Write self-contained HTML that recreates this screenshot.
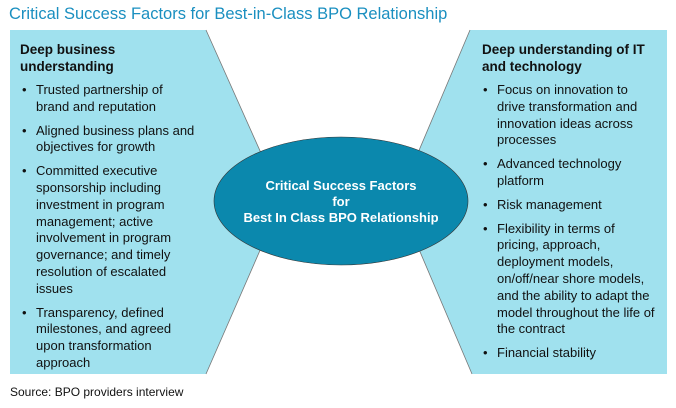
<!DOCTYPE html>
<html><head><style>
body{margin:0;width:676px;height:408px;background:#fff;font-family:"Liberation Sans",Arial,sans-serif;position:relative;overflow:hidden}
.t{position:absolute;white-space:nowrap}
.title{left:9px;top:5px;font-size:16.5px;color:#1a8fc0}
.h{font-weight:bold;font-size:13.5px;line-height:17px;color:#111}
.b{font-size:13px;line-height:16.8px;color:#111}
ul{margin:0;padding:0;list-style:none}
li{position:relative;margin-bottom:7px}
li:before{content:"•";position:absolute;left:-14px}
</style></head><body>
<div class="t title">Critical Success Factors for Best-in-Class BPO Relationship</div>
<svg width="676" height="408" style="position:absolute;left:0;top:0">
<polygon points="10,30 206,30 282,200 206,374 10,374" fill="#a0e1ee"/>
<polyline points="206,30 282,200 206,374" fill="none" stroke="#777" stroke-width="0.8"/>
<polygon points="667,30 470,30 398,200 472,374 667,374" fill="#a0e1ee"/>
<polyline points="470,30 398,200 472,374" fill="none" stroke="#777" stroke-width="0.8"/>
<ellipse cx="341" cy="201" rx="127" ry="64" fill="#0b88ad" stroke="#333" stroke-width="0.6"/>
<text x="341" y="190" fill="#fff" font-weight="bold" font-size="13" text-anchor="middle" font-family="Liberation Sans,Arial,sans-serif">Critical Success Factors</text>
<text x="341" y="206" fill="#fff" font-weight="bold" font-size="13" text-anchor="middle" font-family="Liberation Sans,Arial,sans-serif">for</text>
<text x="341" y="222" fill="#fff" font-weight="bold" font-size="13" text-anchor="middle" font-family="Liberation Sans,Arial,sans-serif">Best In Class BPO Relationship</text>
</svg>
<div class="t h" style="left:20px;top:41px">Deep business<br>understanding</div>
<div class="t b" style="left:36px;top:82px"><ul>
<li>Trusted partnership of<br>brand and reputation</li>
<li>Aligned business plans and<br>objectives for growth</li>
<li>Committed executive<br>sponsorship including<br>investment in program<br>management; active<br>involvement in program<br>governance; and timely<br>resolution of escalated<br>issues</li>
<li>Transparency, defined<br>milestones, and agreed<br>upon transformation<br>approach</li>
</ul></div>
<div class="t h" style="left:482px;top:41px">Deep understanding of IT<br>and technology</div>
<div class="t b" style="left:497px;top:82px"><ul>
<li>Focus on innovation to<br>drive transformation and<br>innovation ideas across<br>processes</li>
<li>Advanced technology<br>platform</li>
<li>Risk management</li>
<li>Flexibility in terms of<br>pricing, approach,<br>deployment models,<br>on/off/near shore models,<br>and the ability to adapt the<br>model throughout the life of<br>the contract</li>
<li>Financial stability</li>
</ul></div>
<div class="t" style="left:10px;top:385px;font-size:12px;color:#111">Source: BPO providers interview</div>
</body></html>
